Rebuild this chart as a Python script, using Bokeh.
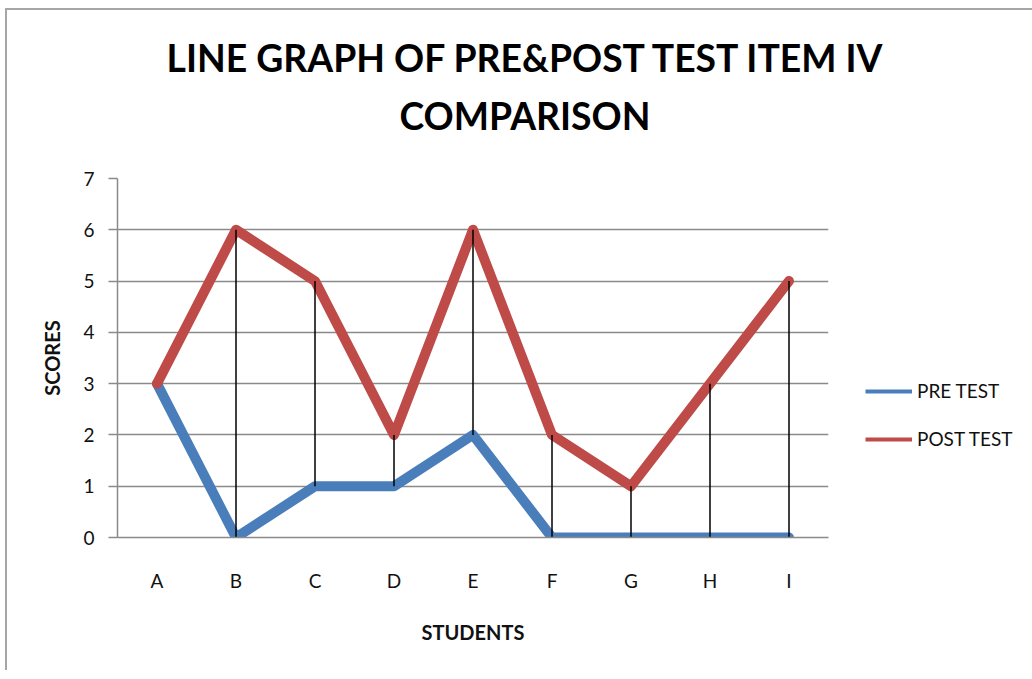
from bokeh.plotting import figure
from bokeh.models import Legend, LegendItem, Title, FixedTicker
from bokeh.embed import file_html
from bokeh.resources import INLINE

students = ["A", "B", "C", "D", "E", "F", "G", "H", "I"]
pre_test = [3, 0, 1, 1, 2, 0, 0, 0, 0]
post_test = [3, 6, 5, 2, 6, 2, 1, 3, 5]
y_ticks = [0, 1, 2, 3, 4, 5, 6, 7]
title_lines = ["LINE GRAPH OF PRE&POST TEST ITEM IV", "COMPARISON"]
series_names = ["PRE TEST", "POST TEST"]

FONT = "Lato"
GRID = "#8a8a8a"
BLUE = "#4a7ebb"
RED = "#be4b48"

W, H = 1020, 660
FL, FT, FW, FH = 110, 168, 711, 359

p = figure(
    x_range=students, y_range=(0, 7),
    width=W, height=H,
    frame_width=FW, frame_height=FH,
    min_border_left=FL, min_border_top=FT,
    min_border_right=W - FL - FW, min_border_bottom=H - FT - FH,
    output_backend="svg", toolbar_location=None,
    background_fill_color="white", border_fill_color="white",
    title=None,
)
p.outline_line_color = None
p.xgrid.grid_line_color = None
p.ygrid.grid_line_color = GRID
p.ygrid.grid_line_width = 1.5
p.ygrid.ticker = FixedTicker(ticks=y_ticks)

p.yaxis.ticker = FixedTicker(ticks=y_ticks)
p.yaxis.axis_line_color = GRID
p.yaxis.axis_line_width = 1.5
p.yaxis.major_tick_line_color = GRID
p.yaxis.major_tick_line_width = 1.5
p.yaxis.major_tick_out = 9
p.yaxis.major_tick_in = 0
p.yaxis.minor_tick_line_color = None
p.yaxis.major_label_standoff = 14
p.yaxis.major_label_text_font = FONT
p.yaxis.major_label_text_font_size = "19px"
p.yaxis.major_label_text_color = "#111111"
p.yaxis.axis_label = "SCORES"
p.yaxis.axis_label_text_font = FONT
p.yaxis.axis_label_text_font_size = "20px"
p.yaxis.axis_label_text_font_style = "bold"
p.yaxis.axis_label_text_color = "#111111"
p.yaxis.axis_label_standoff = 16

p.xaxis.axis_line_color = GRID
p.xaxis.axis_line_width = 1.5
p.xaxis.major_tick_line_color = None
p.xaxis.minor_tick_line_color = None
p.xaxis.major_label_standoff = 25
p.xaxis.major_label_text_font = FONT
p.xaxis.major_label_text_font_size = "19px"
p.xaxis.major_label_text_color = "#111111"
p.xaxis.axis_label = "STUDENTS"
p.xaxis.axis_label_text_font = FONT
p.xaxis.axis_label_text_font_size = "20px"
p.xaxis.axis_label_text_font_style = "bold"
p.xaxis.axis_label_text_color = "#111111"
p.xaxis.axis_label_standoff = 25

p.line(students, pre_test, line_width=10, line_color=BLUE,
       line_join="round", line_cap="round")
p.line(students, post_test, line_width=10, line_color=RED,
       line_join="round", line_cap="round")
p.segment(x0=students, y0=pre_test, x1=students, y1=post_test,
          line_color="black", line_width=1.5)

# thinner swatches for the legend (kept below the visible range)
off = [-100, -100]
leg_pre = p.line(x=students[:2], y=off, line_width=4, line_color=BLUE)
leg_post = p.line(x=students[:2], y=off, line_width=4, line_color=RED)

legend = Legend(
    items=[LegendItem(label=series_names[0], renderers=[leg_pre]),
           LegendItem(label=series_names[1], renderers=[leg_post])],
    location=(37, 87), orientation="vertical",
    glyph_width=47, glyph_height=20, label_height=20, spacing=25,
    padding=0, margin=0, label_standoff=5,
    border_line_color=None, background_fill_alpha=0,
    label_text_font=FONT, label_text_font_size="19px", label_text_color="#111111",
)
p.add_layout(legend, "right")

# titles stack outward from the frame: spacer, line 2, line 1
p.add_layout(Title(text=" ", text_font_size="10px", standoff=22), "above")
p.add_layout(Title(text=title_lines[1], align="left", offset=282,
                   text_font=FONT, text_font_size="37.3px", text_font_style="bold",
                   text_color="black", standoff=12), "above")
p.add_layout(Title(text=title_lines[0], align="left", offset=49,
                   text_font=FONT, text_font_size="37.3px", text_font_style="bold",
                   text_color="black", standoff=10), "above")

p.styles = {"margin-left": "5px", "margin-top": "8px",
            "border-left": "2px solid #a6a6a6", "border-top": "2px solid #a6a6a6"}

open("out.html", "w").write(file_html(p, INLINE))
